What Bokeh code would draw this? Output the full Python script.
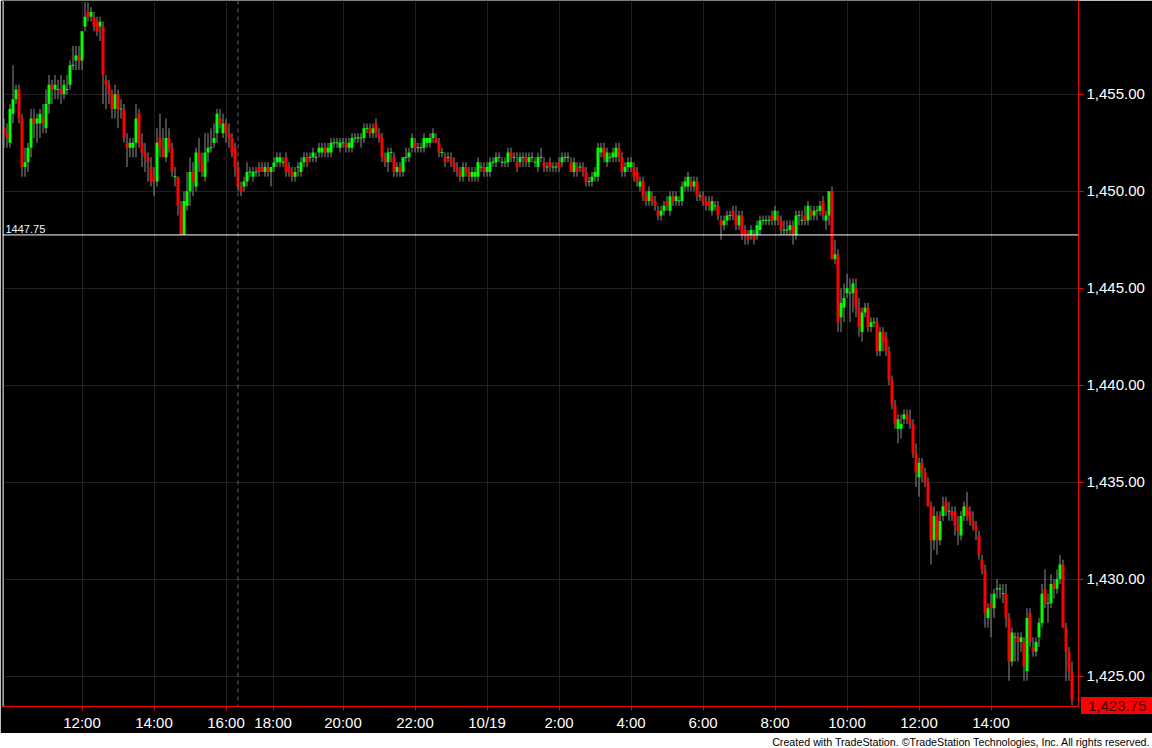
from bokeh.plotting import figure
from bokeh.models import ColumnDataSource, Range1d, FixedTicker, NumeralTickFormatter, Span, Label, Div
from bokeh.layouts import column
from bokeh.embed import file_html
from bokeh.resources import INLINE

# ---------------- data (5-minute bars) ----------------
opens = [
    1453.25, 1453.0, 1452.5, 1454.0, 1454.75, 1455.25, 1453.75, 1451.25, 1451.5, 1452.25,
    1453.75, 1453.5, 1453.5, 1453.75, 1453.25, 1454.5, 1455.5, 1455.25, 1455.25, 1455.25,
    1455.0, 1455.25, 1455.5, 1456.5, 1456.75, 1457.0, 1456.75, 1458.5, 1459.25, 1459.0,
    1459.0, 1458.75, 1458.5, 1458.5, 1455.75, 1455.5, 1455.0, 1454.25, 1455.0, 1454.25,
    1454.25, 1452.5, 1452.25, 1452.25, 1452.5, 1454.0, 1452.5, 1452.0, 1451.75, 1451.25,
    1450.75, 1450.5, 1452.75, 1452.25, 1451.75, 1452.75, 1452.25, 1450.75, 1450.75, 1449.25,
    1447.75, 1449.25, 1450.0, 1451.0, 1450.25, 1452.0, 1451.5, 1450.75, 1452.0, 1452.25,
    1452.5, 1453.0, 1453.75, 1453.0, 1453.5, 1453.0, 1452.75, 1452.25, 1451.25, 1450.25,
    1450.25, 1450.5, 1451.0, 1450.75, 1451.0, 1451.25, 1451.25, 1451.0, 1451.25, 1451.0,
    1451.25, 1451.5, 1451.5, 1451.5, 1451.75, 1451.25, 1451.0, 1450.75, 1451.25, 1451.0,
    1451.5, 1451.75, 1451.75, 1451.75, 1451.75, 1452.0, 1452.0, 1452.25, 1452.0, 1452.0,
    1452.5, 1452.5, 1452.25,
    1452.5, 1452.5, 1452.25, 1452.25, 1452.75, 1452.75, 1452.75, 1452.75, 1453.25, 1453.25,
    1453.0, 1453.5, 1453.0, 1452.75, 1451.75, 1451.5, 1452.0, 1451.75, 1451.0, 1451.25,
    1451.0, 1451.75, 1451.75, 1452.25, 1452.5, 1452.25, 1452.25, 1452.25, 1452.5, 1452.5,
    1452.75, 1452.75, 1452.5, 1452.0, 1451.75, 1451.75, 1451.75, 1451.5, 1451.25, 1451.0,
    1450.75, 1451.25, 1451.0, 1450.75, 1450.75, 1450.75, 1451.25, 1451.25, 1451.0, 1451.0,
    1451.5, 1451.5, 1451.75, 1451.5, 1451.5, 1451.5, 1452.0, 1451.75, 1451.5, 1451.5,
    1451.75, 1451.75, 1451.5, 1451.75, 1451.5, 1451.25, 1451.75, 1451.5, 1451.25, 1451.5,
    1451.25, 1451.25, 1451.5,
    1451.5, 1451.75, 1451.75, 1451.5, 1451.0, 1451.25, 1451.25, 1451.25, 1451.0, 1450.5,
    1450.5, 1450.75, 1450.75, 1452.0, 1452.25, 1451.5, 1451.75, 1451.75, 1451.75, 1452.25,
    1451.75, 1451.0, 1451.25, 1451.25, 1451.25, 1451.0, 1450.25, 1450.5, 1449.75, 1449.5,
    1449.75, 1449.5, 1449.0, 1448.75, 1449.0, 1449.5, 1449.0, 1449.75, 1449.5, 1449.5,
    1449.5, 1450.25, 1450.25, 1450.5, 1450.25, 1450.5, 1449.75, 1449.75, 1449.5, 1449.5,
    1449.0, 1449.25, 1449.25, 1448.5, 1448.25, 1448.5, 1448.75, 1449.0, 1448.75, 1448.25,
    1448.75, 1448.0, 1447.75, 1447.75, 1447.75, 1447.75, 1448.0, 1448.5, 1448.5, 1448.5,
    1448.75, 1448.5, 1448.75, 1448.5, 1448.0, 1448.0, 1448.0,
    1448.25, 1447.75, 1448.75, 1448.5, 1448.75, 1448.5, 1449.0, 1448.75, 1449.0, 1449.0,
    1449.5, 1448.5, 1448.75, 1450.0, 1446.5, 1446.75, 1443.5, 1444.0, 1444.75, 1444.75,
    1444.75, 1445.0, 1444.0, 1442.75, 1443.75, 1444.0, 1443.0, 1443.25, 1443.25, 1441.75,
    1442.75, 1442.5, 1441.75, 1440.25, 1439.0, 1437.75, 1437.75,
    1438.25, 1438.5, 1438.25, 1438.0, 1436.5, 1435.25, 1436.0, 1435.5, 1435.0, 1433.75,
    1432.0, 1433.25, 1432.0, 1433.25, 1434.0, 1433.5, 1433.5, 1433.5, 1432.75, 1432.25,
    1433.25, 1433.75, 1433.5, 1433.0, 1432.75, 1432.25, 1431.0, 1430.5, 1428.0, 1428.75,
    1428.5, 1429.5, 1429.5, 1429.25, 1429.25, 1428.0, 1425.75, 1427.0, 1427.0, 1426.75,
    1426.75, 1425.25, 1428.25, 1426.5, 1426.25, 1427.0, 1427.75, 1429.5, 1428.75, 1428.75,
    1429.75, 1429.5, 1430.0, 1430.75, 1427.5, 1426.25, 1425.25,
]
highs = [
    1453.75, 1453.5, 1454.5, 1456.5, 1455.5, 1455.5, 1454.0, 1452.25, 1452.5, 1454.25,
    1454.25, 1454.0, 1454.25, 1454.5, 1455.25, 1456.0, 1455.75, 1456.0, 1455.75, 1456.0,
    1455.75, 1456.0, 1456.75, 1457.5, 1457.5, 1457.5, 1458.25, 1459.75, 1459.75, 1459.5,
    1459.25, 1459.0, 1459.0, 1458.75, 1456.0, 1455.75, 1455.25, 1455.5, 1455.25, 1454.75,
    1454.5, 1453.0, 1452.75, 1452.75, 1454.5, 1454.25, 1453.0, 1452.5, 1452.0, 1451.75,
    1451.25, 1453.25, 1454.0, 1453.25, 1453.75, 1453.25, 1452.5, 1451.25, 1450.75, 1449.5,
    1450.0, 1451.0, 1451.75, 1451.5, 1452.25, 1452.75, 1452.0, 1453.0, 1453.0, 1453.25,
    1453.5, 1454.25, 1454.25, 1454.0, 1453.75, 1453.5, 1453.0, 1452.5, 1451.5, 1450.5,
    1450.75, 1451.5, 1451.25, 1451.25, 1451.25, 1451.5, 1451.5, 1451.5, 1451.5, 1451.25,
    1451.75, 1452.0, 1452.0, 1451.75, 1452.0, 1451.5, 1451.25, 1451.25, 1451.5, 1451.75,
    1452.0, 1452.0, 1452.0, 1452.25, 1452.0, 1452.5, 1452.5, 1452.5, 1452.5, 1452.75,
    1452.75, 1452.75, 1452.75,
    1452.75, 1452.75, 1452.75, 1453.0, 1453.0, 1453.0, 1453.0, 1453.5, 1453.5, 1453.5,
    1453.5, 1453.75, 1453.25, 1453.0, 1452.0, 1452.25, 1452.25, 1452.0, 1451.5, 1451.5,
    1451.75, 1452.25, 1452.25, 1453.0, 1452.75, 1452.5, 1452.5, 1453.0, 1452.75, 1453.0,
    1453.25, 1453.0, 1452.75, 1452.25, 1452.0, 1452.0, 1452.0, 1451.75, 1451.5, 1451.25,
    1451.5, 1451.5, 1451.25, 1451.25, 1451.25, 1451.75, 1451.5, 1451.5, 1451.5, 1451.75,
    1451.75, 1452.0, 1452.0, 1451.75, 1451.75, 1452.25, 1452.25, 1452.0, 1452.0, 1452.0,
    1452.0, 1452.0, 1452.0, 1452.0, 1451.75, 1452.0, 1452.25, 1451.75, 1451.5, 1451.75,
    1451.5, 1451.5, 1451.75,
    1452.0, 1452.0, 1452.0, 1451.75, 1451.75, 1451.5, 1451.5, 1451.5, 1451.25, 1450.75,
    1451.0, 1451.25, 1452.5, 1452.5, 1452.5, 1452.25, 1452.0, 1452.25, 1452.5, 1452.5,
    1452.0, 1451.5, 1451.75, 1451.75, 1451.5, 1451.25, 1450.75, 1450.75, 1450.0, 1450.25,
    1450.0, 1449.75, 1449.25, 1449.25, 1449.5, 1449.75, 1450.0, 1450.0, 1450.0, 1449.75,
    1450.5, 1450.75, 1451.0, 1450.75, 1450.75, 1450.75, 1450.0, 1450.0, 1449.75, 1449.75,
    1449.75, 1449.5, 1449.5, 1448.75, 1448.75, 1449.0, 1449.0, 1449.25, 1449.25, 1449.0,
    1449.0, 1448.25, 1448.0, 1448.25, 1448.0, 1448.5, 1448.75, 1448.75, 1448.75, 1448.75,
    1449.0, 1449.25, 1449.0, 1448.75, 1448.5, 1448.5, 1448.5,
    1448.5, 1449.0, 1449.0, 1449.0, 1449.25, 1449.5, 1449.25, 1449.25, 1449.25, 1449.5,
    1449.75, 1449.0, 1450.0, 1450.25, 1447.5, 1447.0, 1445.0, 1445.25, 1445.75, 1445.5,
    1445.5, 1445.5, 1444.5, 1444.0, 1444.25, 1444.25, 1443.5, 1443.5, 1443.5, 1443.0,
    1443.0, 1442.75, 1442.0, 1440.5, 1439.25, 1438.5, 1438.5,
    1438.75, 1438.75, 1438.75, 1438.25, 1437.0, 1436.25, 1436.25, 1435.75, 1435.25, 1434.0,
    1433.75, 1433.5, 1433.5, 1434.25, 1434.25, 1434.0, 1433.75, 1433.75, 1433.25, 1433.5,
    1434.0, 1434.5, 1433.75, 1433.5, 1433.0, 1432.5, 1431.25, 1430.75, 1428.75, 1429.25,
    1429.5, 1430.0, 1429.75, 1429.75, 1429.75, 1428.25, 1427.5, 1427.25, 1427.25, 1427.25,
    1427.0, 1428.5, 1428.5, 1427.0, 1427.0, 1428.0, 1429.75, 1430.5, 1429.25, 1430.25,
    1430.0, 1430.5, 1431.25, 1431.0, 1427.75, 1426.5, 1425.75,
]
lows = [
    1452.25, 1452.25, 1452.25, 1453.5, 1454.5, 1453.5, 1450.75, 1450.75, 1451.0, 1451.75,
    1452.75, 1452.5, 1452.75, 1453.0, 1453.0, 1454.0, 1454.5, 1454.75, 1454.75, 1454.5,
    1454.75, 1455.0, 1455.25, 1456.25, 1456.25, 1456.25, 1456.25, 1458.25, 1458.75, 1458.75,
    1458.25, 1458.0, 1457.75, 1454.5, 1454.25, 1454.5, 1453.75, 1453.75, 1453.25, 1453.75,
    1452.5, 1451.25, 1451.75, 1451.75, 1451.75, 1452.25, 1451.25, 1451.0, 1450.5, 1450.25,
    1449.75, 1450.25, 1451.75, 1451.75, 1451.5, 1452.0, 1450.75, 1450.25, 1448.75, 1447.75,
    1447.75, 1449.0, 1449.25, 1449.75, 1450.0, 1451.0, 1450.75, 1450.5, 1451.5, 1452.0,
    1452.25, 1452.5, 1453.25, 1452.75, 1452.5, 1452.25, 1451.75, 1450.75, 1450.0, 1449.75,
    1450.0, 1450.25, 1450.75, 1450.5, 1450.75, 1450.75, 1451.0, 1450.75, 1450.75, 1450.25,
    1451.0, 1451.25, 1451.25, 1451.25, 1450.75, 1450.75, 1450.5, 1450.5, 1450.75, 1450.75,
    1451.25, 1451.25, 1451.5, 1451.5, 1451.5, 1451.75, 1451.75, 1451.75, 1451.75, 1451.75,
    1452.25, 1452.25, 1452.0,
    1452.25, 1452.0, 1452.0, 1452.0, 1452.5, 1452.5, 1452.25, 1452.5, 1453.0, 1452.75,
    1452.75, 1452.75, 1452.5, 1451.5, 1451.25, 1451.0, 1451.5, 1450.75, 1450.75, 1450.75,
    1450.75, 1451.5, 1451.5, 1452.0, 1452.0, 1452.0, 1452.0, 1452.0, 1452.25, 1452.25,
    1452.5, 1452.5, 1451.75, 1451.75, 1451.25, 1451.5, 1451.25, 1451.0, 1450.75, 1450.5,
    1450.5, 1450.75, 1450.5, 1450.5, 1450.5, 1450.5, 1451.0, 1450.75, 1450.75, 1450.75,
    1451.25, 1451.25, 1451.5, 1451.25, 1451.25, 1451.25, 1451.5, 1451.5, 1451.0, 1451.25,
    1451.25, 1451.25, 1451.25, 1451.5, 1451.25, 1451.0, 1451.5, 1451.0, 1451.0, 1451.0,
    1451.0, 1451.0, 1451.0,
    1451.25, 1451.5, 1451.5, 1451.0, 1450.75, 1450.75, 1451.0, 1450.75, 1450.25, 1450.25,
    1450.25, 1450.5, 1450.5, 1451.75, 1451.5, 1451.25, 1451.5, 1451.5, 1451.5, 1451.5,
    1450.75, 1450.75, 1451.0, 1451.0, 1450.5, 1450.25, 1450.0, 1449.5, 1449.25, 1449.25,
    1449.25, 1449.0, 1448.5, 1448.5, 1448.75, 1449.0, 1448.75, 1449.25, 1449.25, 1449.25,
    1449.25, 1450.0, 1450.0, 1450.0, 1450.0, 1449.5, 1449.5, 1449.25, 1449.0, 1449.0,
    1448.75, 1449.0, 1448.5, 1447.5, 1448.0, 1448.25, 1448.5, 1448.5, 1448.0, 1448.0,
    1447.5, 1447.25, 1447.25, 1447.5, 1447.25, 1447.5, 1447.75, 1448.25, 1448.25, 1448.25,
    1448.25, 1448.25, 1448.25, 1447.75, 1447.75, 1447.75, 1447.75,
    1447.25, 1447.5, 1448.25, 1448.25, 1448.25, 1448.25, 1448.5, 1448.5, 1448.5, 1448.75,
    1448.5, 1448.0, 1448.25, 1446.5, 1446.25, 1442.75, 1442.75, 1443.25, 1444.5, 1443.25,
    1443.75, 1443.5, 1442.5, 1442.25, 1443.5, 1442.75, 1442.75, 1443.0, 1441.5, 1441.5,
    1441.75, 1441.5, 1440.0, 1438.75, 1437.75, 1437.0, 1437.25,
    1438.0, 1438.0, 1437.75, 1436.25, 1434.75, 1434.25, 1435.0, 1434.75, 1433.75, 1430.75,
    1431.5, 1431.25, 1431.75, 1433.0, 1433.25, 1433.0, 1433.0, 1432.25, 1431.75, 1432.0,
    1433.0, 1433.0, 1432.75, 1432.5, 1432.0, 1431.0, 1430.25, 1427.5, 1427.5, 1427.0,
    1428.0, 1429.0, 1429.0, 1428.75, 1427.5, 1424.75, 1425.5, 1425.75, 1425.75, 1426.25,
    1424.75, 1424.75, 1426.5, 1426.0, 1426.0, 1426.5, 1427.5, 1428.5, 1427.75, 1428.5,
    1429.0, 1429.25, 1429.75, 1427.5, 1424.75, 1424.75, 1423.5,
]
closes = [
    1453.0, 1452.75, 1454.25, 1454.75, 1455.25, 1453.75, 1451.25, 1451.5, 1452.25, 1453.75,
    1453.5, 1453.75, 1454.0, 1453.5, 1454.5, 1455.5, 1455.25, 1455.5, 1455.25, 1455.0,
    1455.5, 1455.25, 1456.5, 1456.5, 1457.0, 1456.75, 1458.25, 1459.0, 1459.0, 1459.25,
    1458.5, 1458.25, 1458.75, 1456.0, 1455.5, 1455.0, 1454.25, 1455.0, 1454.25, 1454.25,
    1452.75, 1452.25, 1452.5, 1452.5, 1453.75, 1452.5, 1452.0, 1451.75, 1451.5, 1450.5,
    1450.5, 1452.5, 1452.25, 1451.75, 1452.75, 1452.25, 1451.0, 1450.75, 1449.25, 1447.75,
    1449.5, 1450.0, 1451.0, 1450.5, 1452.0, 1451.5, 1451.0, 1452.0, 1452.25, 1452.25,
    1452.75, 1454.0, 1453.5, 1453.5, 1453.0, 1452.75, 1452.0, 1451.25, 1450.25, 1450.0,
    1450.5, 1451.0, 1451.0, 1451.0, 1451.0, 1451.0, 1451.0, 1451.25, 1451.0, 1451.25,
    1451.5, 1451.75, 1451.75, 1451.5, 1451.0, 1451.0, 1450.75, 1451.0, 1451.25, 1451.5,
    1451.75, 1451.5, 1451.75, 1452.0, 1451.75, 1452.25, 1452.25, 1452.0, 1452.25, 1452.5,
    1452.5, 1452.5, 1452.5,
    1452.5, 1452.25, 1452.5, 1452.75, 1452.75, 1452.75, 1452.75, 1453.25, 1453.25, 1453.0,
    1453.25, 1453.0, 1452.75, 1451.75, 1451.5, 1452.0, 1452.0, 1451.0, 1451.25, 1451.0,
    1451.75, 1451.75, 1452.0, 1452.75, 1452.25, 1452.25, 1452.25, 1452.75, 1452.75, 1452.75,
    1453.0, 1452.5, 1452.0, 1452.0, 1451.5, 1451.75, 1451.5, 1451.25, 1451.0, 1450.75,
    1451.25, 1451.0, 1450.75, 1451.0, 1451.0, 1451.5, 1451.25, 1451.0, 1451.25, 1451.5,
    1451.5, 1451.75, 1451.75, 1451.5, 1451.5, 1452.0, 1451.75, 1451.75, 1451.25, 1451.75,
    1451.75, 1451.5, 1451.75, 1451.75, 1451.5, 1451.75, 1451.75, 1451.25, 1451.25, 1451.25,
    1451.25, 1451.25, 1451.25,
    1451.75, 1451.75, 1451.75, 1451.0, 1451.5, 1451.0, 1451.25, 1451.0, 1450.5, 1450.5,
    1450.75, 1451.0, 1452.25, 1452.25, 1451.75, 1452.0, 1451.75, 1452.0, 1452.25, 1451.75,
    1451.0, 1451.25, 1451.5, 1451.5, 1450.75, 1450.5, 1450.5, 1449.75, 1449.5, 1450.0,
    1449.5, 1449.25, 1448.75, 1449.0, 1449.25, 1449.25, 1449.75, 1449.5, 1449.75, 1449.5,
    1450.25, 1450.5, 1450.75, 1450.25, 1450.5, 1449.75, 1449.75, 1449.5, 1449.25, 1449.25,
    1449.5, 1449.25, 1448.75, 1448.25, 1448.5, 1448.75, 1448.75, 1448.75, 1448.25, 1448.75,
    1447.75, 1447.75, 1447.5, 1448.0, 1447.5, 1448.25, 1448.5, 1448.5, 1448.5, 1448.5,
    1448.5, 1449.0, 1448.5, 1448.0, 1448.0, 1448.0, 1448.25,
    1447.75, 1448.75, 1448.75, 1448.5, 1448.5, 1449.25, 1448.75, 1449.0, 1449.0, 1449.25,
    1448.75, 1448.75, 1450.0, 1446.5, 1446.75, 1443.25, 1444.25, 1444.5, 1445.0, 1444.75,
    1445.25, 1444.0, 1443.0, 1443.75, 1444.0, 1443.0, 1443.25, 1443.25, 1441.75, 1442.75,
    1442.25, 1441.75, 1440.25, 1439.0, 1438.0, 1438.25, 1438.0,
    1438.5, 1438.25, 1438.0, 1436.5, 1435.5, 1436.0, 1435.5, 1435.0, 1433.75, 1432.0,
    1433.25, 1432.0, 1433.0, 1433.75, 1433.5, 1433.5, 1433.25, 1432.75, 1432.5, 1433.25,
    1433.75, 1433.25, 1433.0, 1432.75, 1432.5, 1431.25, 1430.5, 1428.25, 1428.5, 1428.5,
    1429.25, 1429.5, 1429.5, 1429.25, 1428.0, 1425.75, 1427.25, 1427.0, 1426.75, 1427.0,
    1425.5, 1428.0, 1426.75, 1426.25, 1426.75, 1427.75, 1429.25, 1428.75, 1428.75, 1429.75,
    1429.5, 1430.0, 1430.75, 1427.5, 1426.25, 1425.25, 1423.75,
]

# time-axis ticks (bar index -> label)
tick_bars = [26, 50, 74, 89.7, 113, 137, 161, 185, 209, 233, 257, 281, 305, 329]
tick_labels = ["12:00", "14:00", "16:00", "18:00", "20:00", "22:00", "10/19",
               "2:00", "4:00", "6:00", "8:00", "10:00", "12:00", "14:00"]
price_ticks = [1425, 1430, 1435, 1440, 1445, 1450, 1455]
session_break_bar = 78
support_level = 1447.75
last_price = 1423.75
credit = "Created with TradeStation. \u00a9TradeStation Technologies, Inc. All rights reserved."

n = len(closes)
assert len(opens) == n and len(highs) == n and len(lows) == n

# ---------------- sources ----------------
idx = list(range(n))
wicks = ColumnDataSource(dict(x=idx, hi=highs, lo=lows))
up_i = [i for i in idx if closes[i] > opens[i]]
dn_i = [i for i in idx if closes[i] < opens[i]]
dj_i = [i for i in idx if closes[i] == opens[i]]
up_src = ColumnDataSource(dict(x=up_i, top=[closes[i] for i in up_i], bot=[opens[i] for i in up_i]))
dn_src = ColumnDataSource(dict(x=dn_i, top=[opens[i] for i in dn_i], bot=[closes[i] for i in dn_i]))
dj_src = ColumnDataSource(dict(x0=[i - 0.5 for i in dj_i], x1=[i + 0.5 for i in dj_i],
                               y=[closes[i] for i in dj_i]))

# frame: 1076 px wide for 3 px per bar, 709 px tall
X0 = -0.5
X1 = X0 + 1076 / 3.0
Y0, Y1 = 1423.43, 1459.84

FONT = "Liberation Sans"
GREEN = "#00ff00"
RED = "#ff0000"

p = figure(width=1152, height=733, output_backend="svg", toolbar_location=None,
           x_range=Range1d(X0, X1), y_range=Range1d(Y0, Y1),
           x_axis_location="below", y_axis_location="right",
           min_border_left=2, min_border_right=74, min_border_top=0, min_border_bottom=24)
p.background_fill_color = "#000000"
p.border_fill_color = "#000000"
p.outline_line_color = None

# axes
p.xaxis.ticker = FixedTicker(ticks=tick_bars)
p.xaxis.major_label_overrides = {t: l for t, l in zip(tick_bars, tick_labels)}
p.yaxis.ticker = FixedTicker(ticks=price_ticks)
p.yaxis.formatter = NumeralTickFormatter(format="0,0.00")
for ax in (p.xaxis, p.yaxis):
    ax.axis_line_color = RED
    ax.axis_line_width = 1
    ax.major_tick_line_color = RED
    ax.major_tick_line_width = 1
    ax.minor_tick_line_color = None
    ax.major_tick_in = 0
    ax.major_label_text_color = "#ffffff"
    ax.major_label_text_font = FONT
    ax.major_label_text_font_size = "15px"
p.xaxis.major_tick_out = 4
p.xaxis.major_label_standoff = 3
p.yaxis.major_tick_out = 5
p.yaxis.major_label_standoff = 3

p.xgrid.grid_line_color = "#202020"
p.ygrid.grid_line_color = "#202020"

# session break, left border
p.add_layout(Span(location=session_break_bar, dimension="height", line_color="#6a6a6a",
                  line_width=1, line_dash="4 4"))
p.add_layout(Span(location=X0, dimension="height", line_color="#9a9a9a", line_width=3))

# candles
p.segment(x0="x", y0="lo", x1="x", y1="hi", source=wicks, line_color="#8e8e8e", line_width=1)
p.vbar(x="x", width=1.0, top="top", bottom="bot", source=up_src, fill_color=GREEN, line_color=None)
p.vbar(x="x", width=1.0, top="top", bottom="bot", source=dn_src, fill_color=RED, line_color=None)
p.segment(x0="x0", y0="y", x1="x1", y1="y", source=dj_src, line_color=GREEN, line_width=1)

p.add_layout(Span(location=support_level, dimension="width", line_color="#ffffff", line_width=1))
p.add_layout(Label(x=X0, y=support_level, x_offset=3, y_offset=2, text="1447.75",
                   text_color="#f0f4ff", text_font=FONT, text_font_size="11px",
                   text_baseline="bottom", text_align="left"))

# credit strip
p2 = figure(width=1152, height=15, output_backend="svg", toolbar_location=None,
            x_range=Range1d(0, 1152), y_range=Range1d(0, 15),
            x_axis_location=None, y_axis_location=None,
            min_border_left=0, min_border_right=0, min_border_top=0, min_border_bottom=0)
p2.background_fill_color = "#ffffff"
p2.border_fill_color = "#ffffff"
p2.outline_line_color = None
p2.xgrid.visible = False
p2.ygrid.visible = False
p2.add_layout(Label(x=1150, y=7, text=credit, text_color="#000000",
                    text_font=FONT, text_font_size="10.7px",
                    text_align="right", text_baseline="middle"))
for fig in (p, p2):
    try:
        fig.frame_align = False
    except Exception:
        pass

# last-price box on the price scale (overlaid at the price-scale position)
last_box = Div(text="{:,.2f}".format(last_price), width=71, height=17,
               styles={"position": "absolute", "left": "1076px", "top": "692px",
                       "z-index": "10", "background-color": RED, "color": "#3a0000",
                       "font-family": "'Liberation Sans', Arial, sans-serif",
                       "font-size": "15px", "line-height": "17px",
                       "padding-left": "7px", "box-sizing": "border-box",
                       "overflow": "hidden", "white-space": "nowrap"})

layout = column(p, p2, last_box, spacing=0)
open("out.html", "w").write(file_html(layout, INLINE))
